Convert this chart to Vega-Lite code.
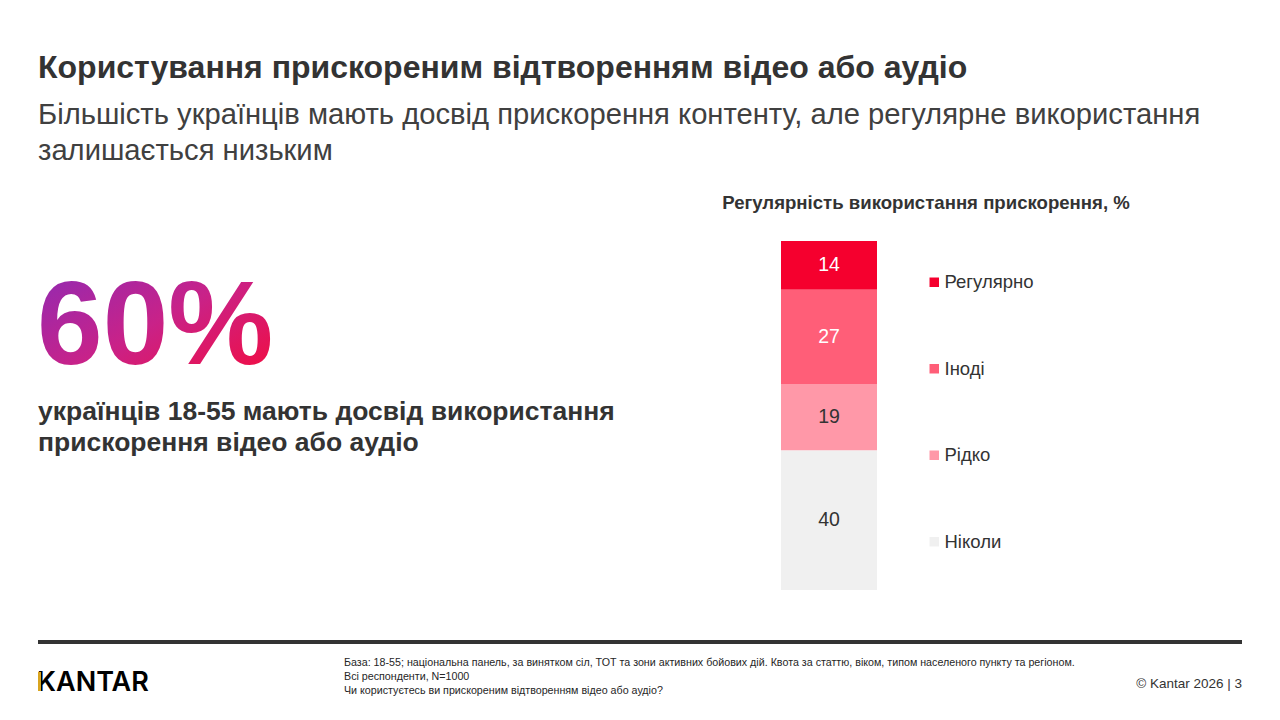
{
  "$schema": "https://vega.github.io/schema/vega-lite/v6.json",
  "width": 1280,
  "height": 720,
  "autosize": "none",
  "padding": 0,
  "background": "#ffffff",
  "config": {
    "view": {"stroke": null},
    "font": "Liberation Sans",
    "text": {"font": "Liberation Sans"}
  },
  "datasets": {
    "usage": [
      {"group": "Усі", "category": "Регулярно", "value": 14, "level": 4},
      {"group": "Усі", "category": "Іноді", "value": 27, "level": 3},
      {"group": "Усі", "category": "Рідко", "value": 19, "level": 2},
      {"group": "Усі", "category": "Ніколи", "value": 40, "level": 1}
    ],
    "blank": [{}]
  },
  "layer": [
    {
      "data": {"name": "usage"},
      "mark": {"type": "bar", "stroke": null},
      "encoding": {
        "x": {
          "field": "group",
          "type": "nominal",
          "axis": null,
          "scale": {"range": [781, 877], "paddingInner": 0, "paddingOuter": 0}
        },
        "y": {
          "field": "value",
          "type": "quantitative",
          "stack": "zero",
          "axis": null,
          "scale": {"domain": [0, 100], "range": [590, 241], "nice": false}
        },
        "order": {"field": "level", "sort": "ascending"},
        "color": {
          "field": "category",
          "type": "nominal",
          "scale": {
            "domain": ["Регулярно", "Іноді", "Рідко", "Ніколи"],
            "range": ["#F5002E", "#FF5E78", "#FF98A8", "#F0F0F0"]
          },
          "legend": {
            "title": null,
            "orient": "none",
            "legendX": 925,
            "legendY": 273,
            "padding": 0,
            "symbolType": "square",
            "symbolSize": 90,
            "symbolStrokeWidth": 0,
            "labelFont": "Liberation Sans",
            "labelFontSize": 18.5,
            "labelColor": "#333333",
            "labelOffset": 1,
            "rowPadding": 67.5
          }
        }
      }
    },
    {
      "data": {"name": "usage"},
      "transform": [
        {"window": [{"op": "sum", "field": "value", "as": "top"}], "sort": [{"field": "level", "order": "ascending"}]},
        {"calculate": "datum.top - datum.value / 2", "as": "middle"}
      ],
      "mark": {"type": "text", "fontSize": 19.5, "baseline": "middle", "align": "center"},
      "encoding": {
        "x": {"field": "group", "type": "nominal"},
        "y": {"field": "middle", "type": "quantitative"},
        "text": {"field": "value", "type": "quantitative"},
        "color": {
          "condition": {"test": "datum.level >= 3", "value": "#ffffff"},
          "value": "#333333"
        }
      }
    },
    {
      "data": {"name": "blank"},
      "mark": {"type": "text", "text": "Користування прискореним відтворенням відео або аудіо", "x": 38, "y": 78, "align": "left", "baseline": "alphabetic", "fontSize": 32, "fontWeight": "bold", "color": "#333333"}
    },
    {
      "data": {"name": "blank"},
      "mark": {"type": "text", "text": ["Більшість українців мають досвід прискорення контенту, але регулярне використання", "залишається низьким"], "x": 38, "y": 124, "lineHeight": 36, "align": "left", "baseline": "alphabetic", "fontSize": 29.2, "color": "#404040"}
    },
    {
      "data": {"name": "blank"},
      "mark": {
        "type": "text",
        "text": "60%",
        "x": 37,
        "y": 364,
        "align": "left",
        "baseline": "alphabetic",
        "fontSize": 118,
        "fontWeight": "bold",
        "color": {
          "gradient": "linear",
          "x1": 0, "y1": 0, "x2": 1, "y2": 1,
          "stops": [
            {"offset": 0, "color": "#8A2BB8"},
            {"offset": 0.5, "color": "#C92288"},
            {"offset": 1, "color": "#F70A38"}
          ]
        }
      }
    },
    {
      "data": {"name": "blank"},
      "mark": {"type": "text", "text": ["українців 18-55 мають досвід використання", "прискорення відео або аудіо"], "x": 38, "y": 420, "lineHeight": 31, "align": "left", "baseline": "alphabetic", "fontSize": 26.5, "fontWeight": "bold", "color": "#333333"}
    },
    {
      "data": {"name": "blank"},
      "mark": {"type": "text", "text": "Регулярність використання прискорення, %", "x": 926, "y": 209, "align": "center", "baseline": "alphabetic", "fontSize": 18.6, "fontWeight": "bold", "color": "#333333"}
    },
    {
      "data": {"name": "blank"},
      "mark": {"type": "rule", "strokeWidth": 4, "color": "#333333"},
      "encoding": {
        "x": {"value": 38},
        "x2": {"value": 1242},
        "y": {"value": 642},
        "y2": {"value": 642}
      }
    },
    {
      "data": {"name": "blank"},
      "mark": {"type": "text", "text": "KANTAR", "x": 37, "y": 691, "align": "left", "baseline": "alphabetic", "fontSize": 27, "fontWeight": 600, "font": "Inter", "color": "#000000"}
    },
    {
      "data": {"name": "blank"},
      "mark": {"type": "rule", "strokeWidth": 3, "color": "#D9A520"},
      "encoding": {
        "x": {"value": 39.5},
        "x2": {"value": 39.5},
        "y": {"value": 672},
        "y2": {"value": 691}
      }
    },
    {
      "data": {"name": "blank"},
      "mark": {"type": "text", "text": ["База: 18-55; національна панель, за винятком сіл, ТОТ та зони активних бойових дій. Квота за статтю, віком, типом населеного пункту та регіоном.", "Всі респонденти, N=1000", "Чи користуєтесь ви прискореним відтворенням відео або аудіо?"], "x": 344, "y": 666, "lineHeight": 14, "align": "left", "baseline": "alphabetic", "fontSize": 10.7, "color": "#262626"}
    },
    {
      "data": {"name": "blank"},
      "mark": {"type": "text", "text": "© Kantar 2026 | 3", "x": 1242, "y": 688, "align": "right", "baseline": "alphabetic", "fontSize": 13.5, "color": "#333333"}
    }
  ]
}
